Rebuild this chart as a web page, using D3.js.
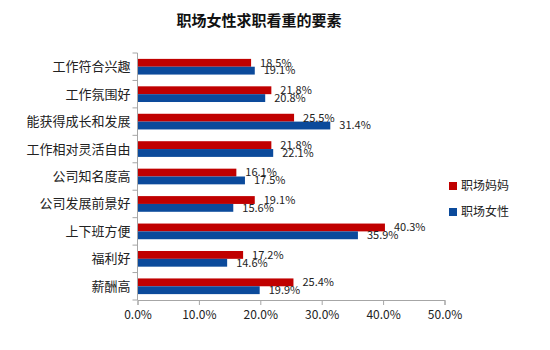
<!DOCTYPE html>
<html>
<head>
<meta charset="utf-8">
<script src="https://cdn.jsdelivr.net/npm/d3@7"></script>
<style>
  html, body { margin: 0; padding: 0; background: #fff; }
  svg { display: block; font-family: "Noto Sans CJK SC", "Noto Sans", sans-serif; }
</style>
</head>
<body>
<svg id="chart" width="550" height="350"></svg>
<script>
// Factors valued by working women when job hunting
const categories = ["工作符合兴趣", "工作氛围好", "能获得成长和发展", "工作相对灵活自由",
                    "公司知名度高", "公司发展前景好", "上下班方便", "福利好", "薪酬高"];
const seriesNames = ["职场妈妈", "职场女性"];
const momValues = [18.5, 21.8, 25.5, 21.8, 16.1, 19.1, 40.3, 17.2, 25.4];
const womenValues = [19.1, 20.8, 31.4, 22.1, 17.5, 15.6, 35.9, 14.6, 19.9];
const xTicks = [0, 10, 20, 30, 40, 50];
const colors = ["#C00000", "#0B4A9B"];

const svg = d3.select("#chart");
const plot = { left: 137.5, right: 444.5, top: 53, bottom: 300 };

const x = d3.scaleLinear().domain([0, 50]).range([plot.left, plot.right]);
const y = d3.scaleBand().domain(categories).range([plot.top, plot.bottom]).padding(0);
const ySub = d3.scaleBand().domain(seriesNames).range([0, y.bandwidth()])
  .paddingInner(0).paddingOuter(0.75);

const rows = categories.map((c, i) => ({ cat: c, vals: [momValues[i], womenValues[i]] }));

// Title
svg.append("text")
  .attr("x", 259).attr("y", 26)
  .attr("text-anchor", "middle")
  .attr("font-size", 15).attr("font-weight", "bold").attr("fill", "#111")
  .text("职场女性求职看重的要素");

// Bars
const groups = svg.append("g").selectAll("g").data(rows).join("g")
  .attr("transform", d => `translate(0,${y(d.cat)})`);

groups.selectAll("rect").data(d => d.vals.map((v, k) => ({ v, s: seriesNames[k], k })))
  .join("rect")
  .attr("x", x(0))
  .attr("y", d => ySub(d.s))
  .attr("width", d => x(d.v) - x(0))
  .attr("height", ySub.bandwidth())
  .attr("fill", d => colors[d.k]);

// Value labels
groups.selectAll("text").data(d => d.vals.map((v, k) => ({ v, s: seriesNames[k], k })))
  .join("text")
  .attr("x", d => x(d.v) + 9)
  .attr("y", d => ySub(d.s) + ySub.bandwidth() / 2)
  .attr("dy", "0.35em")
  .attr("font-size", 11).attr("fill", "#222")
  .text(d => d.v.toFixed(1) + "%");

// Y axis: line, ticks between categories, labels at band centres
const yAxis = svg.append("g");
yAxis.append("line")
  .attr("x1", plot.left).attr("x2", plot.left)
  .attr("y1", plot.top).attr("y2", plot.bottom)
  .attr("stroke", "#A6A6A6");
const bounds = categories.map(c => y(c)).concat([plot.bottom]);
yAxis.selectAll("line.tick").data(bounds).join("line")
  .attr("class", "tick")
  .attr("x1", plot.left - 5).attr("x2", plot.left)
  .attr("y1", d => d).attr("y2", d => d)
  .attr("stroke", "#A6A6A6");
yAxis.selectAll("text").data(categories).join("text")
  .attr("x", plot.left - 7)
  .attr("y", d => y(d) + y.bandwidth() / 2)
  .attr("dy", "0.35em")
  .attr("text-anchor", "end")
  .attr("font-size", 13).attr("fill", "#222")
  .text(d => d);

// X axis
const xAxis = svg.append("g")
  .attr("transform", `translate(0,${plot.bottom})`)
  .call(d3.axisBottom(x).tickValues(xTicks).tickSize(5).tickPadding(5)
    .tickFormat(d => d.toFixed(1) + "%"));
xAxis.select(".domain").attr("stroke", "#A6A6A6");
xAxis.selectAll(".tick line").attr("stroke", "#A6A6A6");
xAxis.selectAll(".tick text")
  .attr("font-size", 12).attr("fill", "#222")
  .attr("font-family", "'Noto Sans CJK SC', 'Noto Sans', sans-serif");

// Legend
const legend = svg.append("g").selectAll("g").data(seriesNames).join("g")
  .attr("transform", (d, i) => `translate(449,${186 + i * 26})`);
legend.append("rect")
  .attr("x", 0).attr("y", -4).attr("width", 8).attr("height", 8)
  .attr("fill", (d, i) => colors[i]);
legend.append("text")
  .attr("x", 12).attr("y", 0).attr("dy", "0.35em")
  .attr("font-size", 12).attr("fill", "#222")
  .text(d => d);
</script>
</body>
</html>
